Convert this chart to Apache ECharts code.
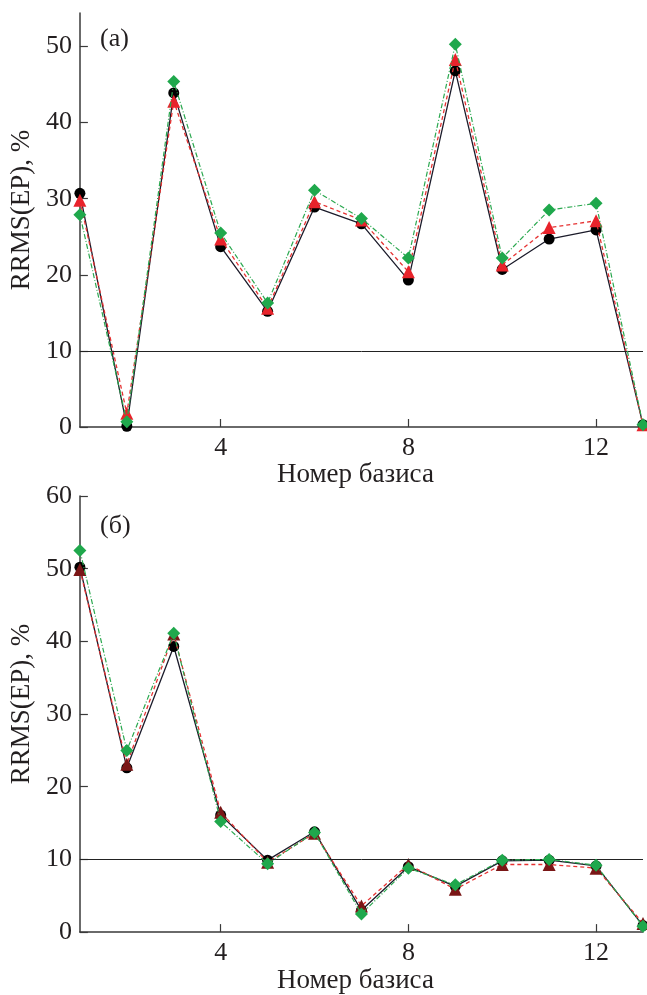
<!DOCTYPE html>
<html>
<head>
<meta charset="utf-8">
<script src="https://cdn.jsdelivr.net/npm/echarts@6/dist/echarts.min.js"></script>
<style>
  html, body { margin: 0; padding: 0; background: #fff; }
  #chart { width: 647px; height: 995px; }
</style>
</head>
<body>
<div id="chart"></div>
<script>
// Basis numbers along the horizontal axis
const basisNumbers = [1, 2, 3, 4, 5, 6, 7, 8, 9, 10, 11, 12, 13];
const xTickValues = [4, 8, 12];

// Panel (а): RRMS(EP), %
const topBlack = [30.7, 0.1, 43.9, 23.7, 15.2, 28.9, 26.7, 19.3, 46.8, 20.7, 24.7, 25.9, 0.3];
const topRed   = [29.8, 1.8, 42.8, 24.7, 15.6, 29.6, 27.2, 20.4, 48.3, 21.3, 26.2, 27.1, 0.3];
const topGreen = [27.9, 0.7, 45.4, 25.5, 16.3, 31.1, 27.4, 22.2, 50.3, 22.2, 28.5, 29.4, 0.3];
const topYTicks = [0, 10, 20, 30, 40, 50];

// Panel (б): RRMS(EP), %
const bottomBlack = [50.2, 22.6, 39.3, 16.1, 9.9, 13.8, 3.0, 9.0, 6.3, 9.8, 9.9, 9.1, 0.9];
const bottomRed   = [49.9, 23.1, 41.0, 16.5, 9.6, 13.6, 3.6, 9.3, 5.9, 9.3, 9.3, 8.8, 1.2];
const bottomGreen = [52.5, 25.0, 41.1, 15.2, 9.4, 13.7, 2.5, 8.8, 6.5, 9.9, 10.0, 9.2, 0.8];
const bottomYTicks = [0, 10, 20, 30, 40, 50, 60];

// Reference level drawn as a horizontal line
const thresholdLevel = 10;

const panelLabels = ['(а)', '(б)'];
const xAxisTitle = 'Номер базиса';
const yAxisTitle = 'RRMS(EP), %';

const FONT = '"Liberation Serif", "DejaVu Serif", serif';
const TEXT = '#231f20';
const AXIS = '#3a3a3a';

const pairs = (ys) => basisNumbers.map((x, i) => [x, ys[i]]);

function xAxisFor(gridIndex) {
  return {
    type: 'value', gridIndex, min: 1, max: 13,
    name: xAxisTitle, nameLocation: 'middle', nameGap: 25,
    nameTextStyle: { fontFamily: FONT, fontSize: 27, color: TEXT, padding: [0, 12, 0, 0] },
    axisLine: { show: true, onZero: false, lineStyle: { color: AXIS, width: 1.5 } },
    axisTick: { show: true, inside: true, length: 8, customValues: xTickValues, lineStyle: { color: AXIS, width: 1.2 } },
    axisLabel: { customValues: xTickValues, margin: 8, fontFamily: FONT, fontSize: 26, color: TEXT },
    splitLine: { show: false }
  };
}

function yAxisFor(gridIndex, max, ticks) {
  return {
    type: 'value', gridIndex, min: 0, max,
    name: yAxisTitle, nameLocation: 'middle', nameGap: 38,
    nameTextStyle: { fontFamily: FONT, fontSize: 27, color: TEXT, padding: [0, 0, 0, 20] },
    axisLine: { show: true, lineStyle: { color: AXIS, width: 1.5 } },
    axisTick: { show: true, inside: true, length: 8, customValues: ticks, lineStyle: { color: AXIS, width: 1.2 } },
    axisLabel: { customValues: ticks, margin: 8, fontFamily: FONT, fontSize: 26, color: TEXT },
    splitLine: { show: false }
  };
}

function seriesFor(idx, black, red, green, triangleColor) {
  return [
    {
      type: 'line', xAxisIndex: idx, yAxisIndex: idx, data: pairs(black),
      symbol: 'circle', symbolSize: 11, z: 3,
      itemStyle: { color: '#000' },
      lineStyle: { color: '#1b1b2a', width: 1.3, type: 'solid' },
      markLine: {
        silent: true, symbol: 'none', label: { show: false },
        lineStyle: { color: '#222', width: 1, type: 'solid' },
        data: [{ yAxis: thresholdLevel }]
      }
    },
    {
      type: 'line', xAxisIndex: idx, yAxisIndex: idx, data: pairs(red),
      symbol: 'triangle', symbolSize: 13, z: 4,
      itemStyle: { color: triangleColor },
      lineStyle: { color: '#e63232', width: 1.3, type: [4, 3] }
    },
    {
      type: 'line', xAxisIndex: idx, yAxisIndex: idx, data: pairs(green),
      symbol: 'diamond', symbolSize: 13, z: 5,
      itemStyle: { color: '#1fa84c' },
      lineStyle: { color: '#2aa84f', width: 1.2, type: [5, 2, 1, 2] }
    }
  ];
}

const chart = echarts.init(document.getElementById('chart'), null, { renderer: 'canvas' });
chart.setOption({
  animation: false,
  backgroundColor: '#ffffff',
  title: [
    { text: panelLabels[0], left: 95, top: 21, textStyle: { fontFamily: FONT, fontSize: 26, fontWeight: 'normal', color: TEXT } },
    { text: panelLabels[1], left: 95, top: 508, textStyle: { fontFamily: FONT, fontSize: 26, fontWeight: 'normal', color: TEXT } }
  ],
  grid: [
    { left: 76, top: 13, width: 567, height: 414 },
    { left: 76, top: 496, width: 567, height: 450 }
  ],
  xAxis: [xAxisFor(0), xAxisFor(1)],
  yAxis: [yAxisFor(0, 54.4, topYTicks), yAxisFor(1, 60, bottomYTicks)],
  series: [
    ...seriesFor(0, topBlack, topRed, topGreen, '#e8232b'),
    ...seriesFor(1, bottomBlack, bottomRed, bottomGreen, '#7a1616')
  ]
});
</script>
</body>
</html>
